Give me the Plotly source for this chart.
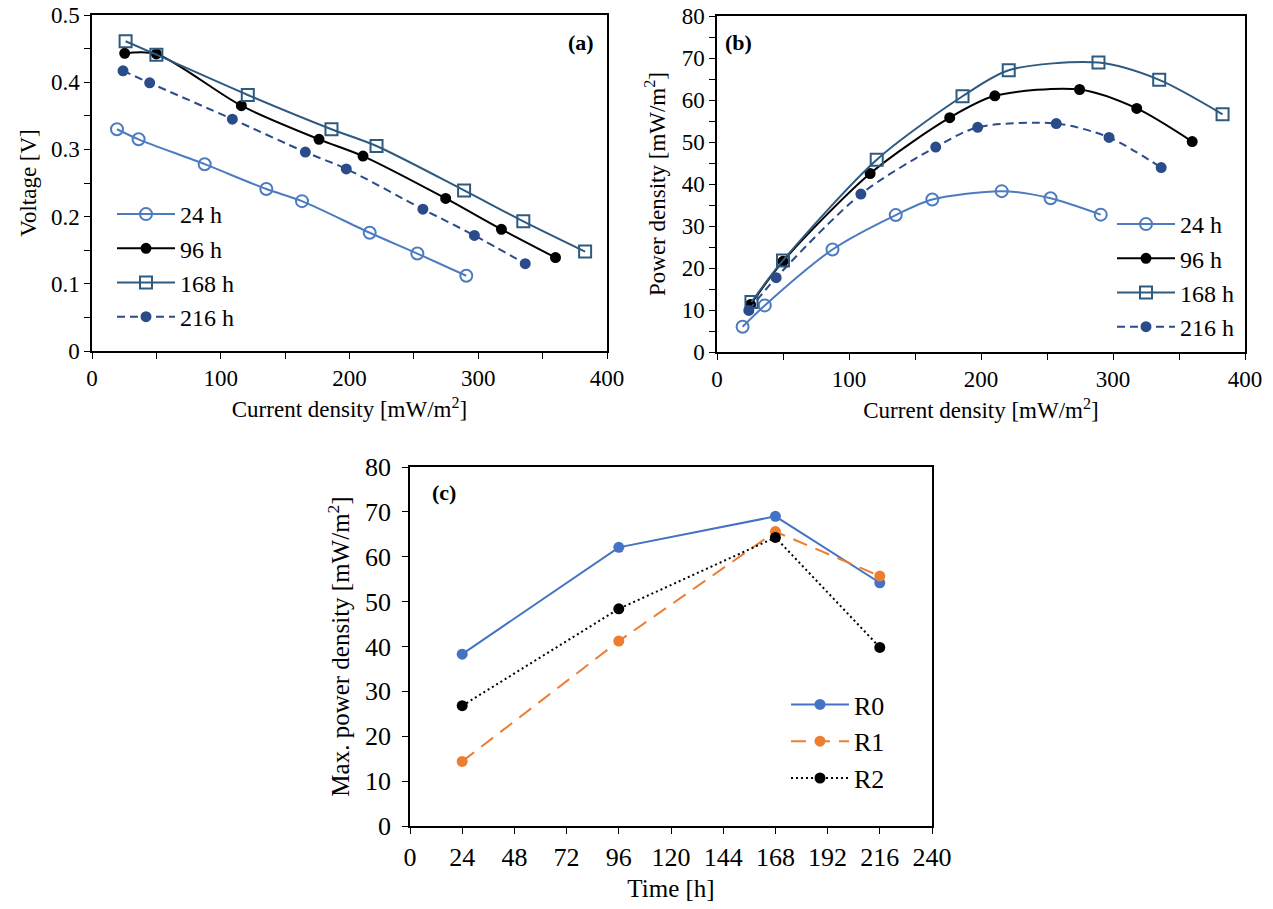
import plotly.graph_objects as go

# ---------------- data ----------------
series_names = ["24 h", "96 h", "168 h", "216 h"]

cd_24 = [19.4, 36.2, 87.5, 135.4, 163.1, 215.7, 252.7, 290.7]
v_24 = [0.330, 0.315, 0.278, 0.241, 0.223, 0.176, 0.145, 0.112]
pd_24 = [6.0, 11.1, 24.4, 32.6, 36.3, 38.3, 36.6, 32.7]

cd_96 = [25.4, 50.0, 116.0, 176.3, 210.5, 274.7, 318.0, 360.0]
v_96 = [0.443, 0.442, 0.365, 0.315, 0.290, 0.227, 0.181, 0.139]
pd_96 = [11.3, 21.6, 42.5, 55.8, 61.0, 62.5, 58.0, 50.1]

cd_168 = [26.1, 50.0, 121.0, 186.0, 221.0, 289.0, 335.0, 383.0]
v_168 = [0.461, 0.441, 0.381, 0.330, 0.305, 0.239, 0.193, 0.148]
pd_168 = [11.9, 21.8, 45.8, 60.9, 67.1, 68.9, 64.8, 56.6]

cd_216 = [24.1, 44.8, 109.0, 165.7, 197.5, 257.0, 297.0, 336.5]
v_216 = [0.417, 0.399, 0.345, 0.296, 0.271, 0.211, 0.172, 0.130]
pd_216 = [9.9, 17.7, 37.6, 48.8, 53.5, 54.4, 51.1, 43.9]

time_h = [24, 96, 168, 216]
r_names = ["R0", "R1", "R2"]
r0 = [38.3, 62.1, 69.0, 54.2]
r1 = [14.4, 41.2, 65.6, 55.7]
r2 = [26.8, 48.4, 64.3, 39.8]

# ---------------- styling ----------------
W, H = 1273, 909
FONT = "Liberation Serif, Times New Roman, serif"
c24, c96, c168, c216 = "#4C7BC0", "#000000", "#2F5A80", "#2A4C8A"
cR0, cR1, cR2 = "#4472C4", "#ED7D31", "#000000"


def px_x(p):
    return p / W


def px_y(p):
    return 1 - p / H


fig = go.Figure()

specs = [
    (cd_24, v_24, pd_24, series_names[0], c24, "circle-open", 12, "solid"),
    (cd_96, v_96, pd_96, series_names[1], c96, "circle", 9, "solid"),
    (cd_168, v_168, pd_168, series_names[2], c168, "square-open", 12, "solid"),
    (cd_216, v_216, pd_216, series_names[3], c216, "circle", 9, "8px,5px"),
]

for cd, v, p, name, col, sym, ms, dash in specs:
    mk = dict(symbol=sym, size=ms, color=col, line=dict(width=2, color=col))
    ln = dict(color=col, width=2, dash=dash, shape="spline", smoothing=0.8)
    fig.add_trace(go.Scatter(x=cd, y=v, name=name, mode="lines+markers", marker=mk, line=ln,
                             xaxis="x", yaxis="y", legend="legend"))
    fig.add_trace(go.Scatter(x=cd, y=p, name=name, mode="lines+markers", marker=mk, line=ln,
                             xaxis="x2", yaxis="y2", legend="legend2"))

for vals, name, col, dash in [(r0, r_names[0], cR0, "solid"), (r1, r_names[1], cR1, "15px,9px"),
                              (r2, r_names[2], cR2, "2px,3px")]:
    fig.add_trace(go.Scatter(x=time_h, y=vals, name=name, mode="lines+markers",
                             marker=dict(symbol="circle", size=11, color=col),
                             line=dict(color=col, width=2, dash=dash),
                             xaxis="x3", yaxis="y3", legend="legend3"))

ax_common = dict(showline=True, linecolor="black", linewidth=1.5, mirror=True, showgrid=False,
                 zeroline=False, ticks="outside", ticklen=6, tickwidth=1.2, tickcolor="black",
                 color="black", automargin=False)

font_ab = dict(family=FONT, size=23, color="black")
font_leg = dict(family=FONT, size=24, color="black")
font_c = dict(family=FONT, size=26, color="black")
font_ct = dict(family=FONT, size=25, color="black")
font_lab = dict(family=FONT, size=22, color="black")

fig.update_layout(
    width=W, height=H, autosize=False,
    margin=dict(l=0, r=0, t=0, b=0, autoexpand=False),
    paper_bgcolor="white", plot_bgcolor="white",
    font=dict(family=FONT, size=23, color="black"),
    xaxis=dict(ax_common, domain=[px_x(92), px_x(607)], range=[0, 400], dtick=100,
               minor=dict(dtick=50, ticks="outside", ticklen=6, tickcolor="black"),
               tickfont=font_ab, anchor="y",
               title=dict(text="Current density [mW/m<sup>2</sup>]", font=font_ab, standoff=11)),
    yaxis=dict(ax_common, domain=[px_y(351), px_y(15)], range=[0, 0.5], dtick=0.1,
               minor=dict(dtick=0.05, ticks="outside", ticklen=6, tickcolor="black"),
               tickfont=font_ab, anchor="x", tickformat="~g",
               title=dict(text="Voltage [V]", font=font_ab, standoff=8)),
    xaxis2=dict(ax_common, domain=[px_x(717), px_x(1245)], range=[0, 400], dtick=100,
                minor=dict(dtick=50, ticks="outside", ticklen=6, tickcolor="black"),
                tickfont=font_ab, anchor="y2",
                title=dict(text="Current density [mW/m<sup>2</sup>]", font=font_ab, standoff=11)),
    yaxis2=dict(ax_common, domain=[px_y(352), px_y(16)], range=[0, 80], dtick=10,
                minor=dict(dtick=5, ticks="outside", ticklen=6, tickcolor="black"),
                tickfont=font_ab, anchor="x2",
                title=dict(text="Power density [mW/m<sup>2</sup>]", font=font_ab, standoff=10)),
    xaxis3=dict(ax_common, domain=[px_x(410), px_x(932)], range=[0, 240], dtick=24,
                tickfont=font_c, anchor="y3", ticklabelstandoff=1,
                title=dict(text="Time [h]", font=font_ct, standoff=9)),
    yaxis3=dict(ax_common, domain=[px_y(826), px_y(467)], range=[0, 80], dtick=10,
                tickfont=font_c, anchor="x3", ticklabelstandoff=6,
                title=dict(text="Max. power density [mW/m<sup>2</sup>]", font=font_ct, standoff=8)),
    legend=dict(x=px_x(112), y=px_y(192), xanchor="left", yanchor="top", bgcolor="rgba(0,0,0,0)",
                font=font_leg, itemwidth=58),
    legend2=dict(x=px_x(1112), y=px_y(202), xanchor="left", yanchor="top", bgcolor="rgba(0,0,0,0)",
                 font=font_leg, itemwidth=58),
    legend3=dict(x=px_x(786), y=px_y(681), xanchor="left", yanchor="top", bgcolor="rgba(0,0,0,0)",
                 font=font_c, itemwidth=58),
    annotations=[
        dict(text="<b>(a)</b>", x=px_x(581), y=px_y(42), xref="paper", yref="paper",
             xanchor="center", yanchor="middle", showarrow=False, font=font_lab),
        dict(text="<b>(b)</b>", x=px_x(738), y=px_y(42), xref="paper", yref="paper",
             xanchor="center", yanchor="middle", showarrow=False, font=font_lab),
        dict(text="<b>(c)</b>", x=px_x(444), y=px_y(492), xref="paper", yref="paper",
             xanchor="center", yanchor="middle", showarrow=False, font=font_lab),
    ],
)

fig.write_html("out.html", config={"displayModeBar": False},
               post_script="document.body.style.margin='0';document.body.style.overflow='hidden';")
